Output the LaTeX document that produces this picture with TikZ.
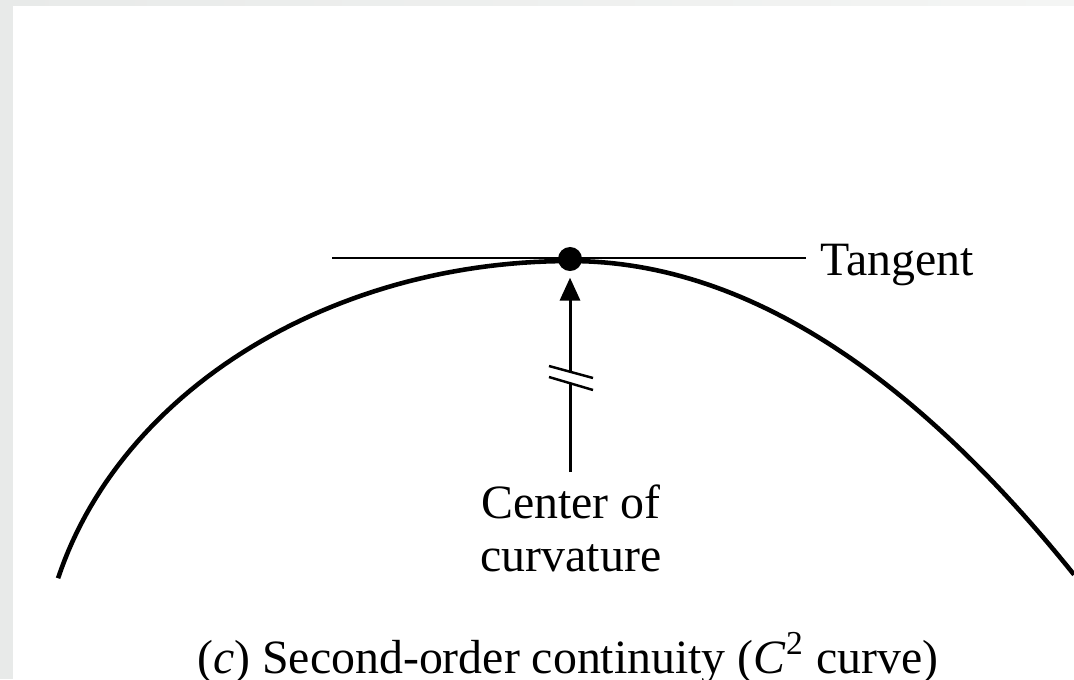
\documentclass[tikz,border=0pt]{standalone}
\usepackage{fontspec}
\setmainfont{Liberation Serif}
\usetikzlibrary{arrows.meta,calc,positioning}
\definecolor{FigInk}{HTML}{000000}
\definecolor{FigFrame}{HTML}{E8EAE9}
\definecolor{FigFrameLight}{HTML}{F4F5F4}
\tikzset{
  profile/.style={
    draw=FigInk,
    line width=1.3pt,
    line join=round
  },
  tangentline/.style={
    draw=FigInk,
    line width=0.85pt
  },
  contact/.style={
    circle,
    fill=FigInk,
    minimum size=0.24cm,
    inner sep=0pt
  },
  pointer/.style={
    -{Triangle[length=6.5pt,width=5.7pt]},
    draw=FigInk,
    line width=0.85pt,
    shorten >=1.7pt
  },
  breakmark/.style={
    draw=FigInk,
    line width=0.7pt
  },
  note/.style={
    font=\fontsize{13.6pt}{15.1pt}\selectfont,
    text=FigInk,
    inner sep=0pt
  }
}

\begin{document}
\begin{tikzpicture}[x=0.01cm,y=-0.01cm]
  \useasboundingbox (0,0) rectangle (1074,679);

  % Grey page edge along the left and the top.
  \fill[FigFrame] (0,0) rectangle (13,679);
  \shade[left color=FigFrame,right color=FigFrameLight] (0,0) rectangle (1074,6);

  % The curve: elliptic on the left, parabolic on the right.
  \draw[profile]
    plot[domain=165:90,samples=60] ({570+530*cos(\x)},{689-428*sin(\x)}) --
    plot[domain=570:1074,samples=60] (\x,{261+((\x-570)/28.46)^2});

  % Point of contact and its tangent.
  \node[contact] (touch) at (570,259) {};
  \node[note,anchor=base west,inner xsep=0.14cm] (tangent) at (806,275) {Tangent};
  \coordinate (tangent-end) at (332,258);
  \draw[tangentline] (tangent-end) -- (tangent-end -| tangent.west);

  % Radius to the centre of curvature, broken to show it is not to scale.
  \node[note,align=center,anchor=north] (centre) at (571,484) {Center of\\curvature};
  \coordinate (shaft-tail) at ($(centre.north)+(-1,-12)$);
  \coordinate (gap-low) at (570,383);
  \coordinate (gap-high) at (570,372);
  \draw[tangentline] (shaft-tail) -- (gap-low);
  \draw[pointer] (gap-high) -- (touch);
  \draw[breakmark] (549,366) -- (593,378);
  \draw[breakmark] (549,377) -- (593,390);

  % Caption.
  \node[note,anchor=base] (caption) at (568,673)
    {(\textit{c}) Second-order continuity (\textit{C}\textsuperscript{2} curve)};
\end{tikzpicture}
\end{document}
